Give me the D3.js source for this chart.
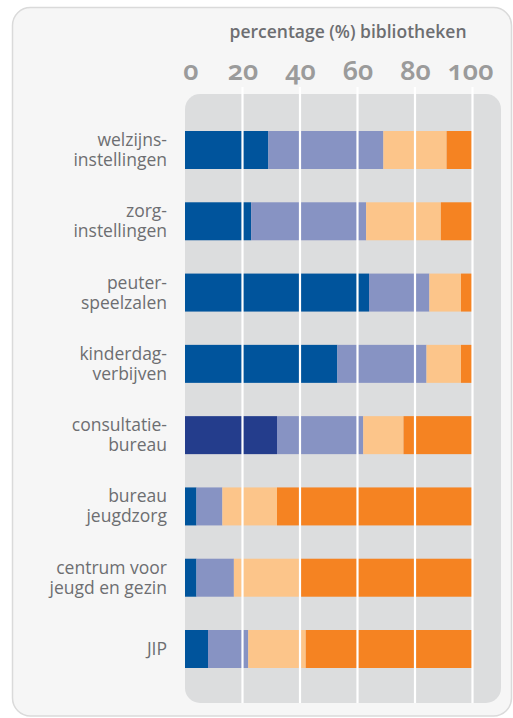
<!DOCTYPE html>
<html>
<head>
<meta charset="utf-8">
<script src="https://cdn.jsdelivr.net/npm/d3@7"></script>
<style>
  html, body { margin: 0; padding: 0; background: #fff; }
  svg { display: block; font-family: "Open Sans", "Noto Sans", sans-serif; }
</style>
</head>
<body>
<div id="content"></div>
<script>
// categories (label lines) top to bottom
var categories = [
  ["welzijns-", "instellingen"],
  ["zorg-", "instellingen"],
  ["peuter-", "speelzalen"],
  ["kinderdag-", "verbijven"],
  ["consultatie-", "bureau"],
  ["bureau", "jeugdzorg"],
  ["centrum voor", "jeugd en gezin"],
  ["JIP"]
];
// four stacked parts, percentages
var part1 = [29, 23, 64, 53, 32, 4, 4, 8];
var part2 = [40, 40, 21, 31, 30, 9, 13, 14];
var part3 = [22, 26, 11, 12, 14, 19, 23, 20];
var part4 = [9, 11, 4, 4, 24, 68, 60, 58];
var ticks = [0, 20, 40, 60, 80, 100];
var colors = ["#00549c", "#8793c3", "#fcc58a", "#f58322"];
var accent = "#243d8c"; // first part of consultatie-bureau is darker

var rows = categories.map(function(c, i) {
  return {name: c.join(" "), lines: c, p1: part1[i], p2: part2[i], p3: part3[i], p4: part4[i]};
});
var keys = ["p1", "p2", "p3", "p4"];

var svg = d3.select("#content").append("svg")
    .attr("width", 513)
    .attr("height", 718);

//Card
svg.append("rect")
    .attr("x", 12.5).attr("y", 7.5)
    .attr("width", 499).attr("height", 708.5)
    .attr("rx", 18).attr("ry", 18)
    .attr("fill", "#f6f6f6")
    .attr("stroke", "#dadada")
    .attr("stroke-width", 1.5);

var x = d3.scaleLinear().domain([0, 100]).range([185, 472.5]);
var y = d3.scaleBand().domain(d3.range(rows.length)).range([131, 668]).paddingInner(0.467);

//Panel
svg.append("rect")
    .attr("x", 185).attr("y", 94)
    .attr("width", 316).attr("height", 609)
    .attr("rx", 15).attr("ry", 15)
    .attr("fill", "#dcddde");

//Bars
var stack = d3.stack().keys(keys)(rows);
svg.append("g").selectAll("g")
  .data(stack)
  .join("g")
    .each(function(s, k) {
      d3.select(this).selectAll("rect")
        .data(s)
        .join("rect")
          .attr("x", function(d) { return x(d[0]); })
          .attr("width", function(d) { return x(d[1]) - x(d[0]); })
          .attr("y", function(d, i) { return y(i); })
          .attr("height", y.bandwidth())
          .attr("fill", function(d) {
            return (k === 0 && d.data.name === "consultatie- bureau") ? accent : colors[k];
          });
    });

//Gridlines over the bars + ticks above panel
svg.append("g").selectAll("line")
  .data(ticks.slice(1))
  .join("line")
    .attr("x1", function(d) { return x(d); })
    .attr("x2", function(d) { return x(d); })
    .attr("y1", 87).attr("y2", 703)
    .attr("stroke", "#fff")
    .attr("stroke-width", 2.2);

//Top axis labels
var axis = d3.axisTop(x).tickValues(ticks).tickSize(0).tickPadding(0);
var gAxis = svg.append("g").attr("transform", "translate(0,80)").call(axis);
gAxis.select(".domain").remove();
gAxis.selectAll("text")
    .attr("dy", 0)
    .attr("fill", "#9b9b9b")
    .style("font-family", "'Noto Sans', 'Open Sans', sans-serif")
    .style("font-size", "27px")
    .style("font-weight", 600)
    .style("font-variant-numeric", "oldstyle-nums")
    .style("font-feature-settings", "'onum' 1");
gAxis.selectAll(".tick").filter(function(d) { return d === 0; })
    .attr("transform", "translate(" + (x(0) + 6) + ",0)");
gAxis.selectAll(".tick").filter(function(d) { return d === 100; })
    .attr("transform", "translate(" + (x(100) - 2) + ",0)");

//Title
svg.append("text")
    .attr("x", 348).attr("y", 38)
    .attr("text-anchor", "middle")
    .attr("fill", "#6d6e71")
    .style("font-size", "17.5px")
    .style("font-weight", 600)
    .text("percentage (%) bibliotheken");

//Category labels
var labels = svg.append("g").selectAll("text")
  .data(rows)
  .join("text")
    .attr("text-anchor", "end")
    .attr("fill", "#6d6e71")
    .style("font-size", "17.5px")
    .attr("transform", function(d, i) {
      return "translate(167," + (y(i) + y.bandwidth() / 2) + ")";
    });
labels.selectAll("tspan")
  .data(function(d) { return d.lines.map(function(l, j) { return {t: l, j: j, n: d.lines.length}; }); })
  .join("tspan")
    .attr("x", 0)
    .attr("y", function(d) { return 6 + (d.j - (d.n - 1) / 2) * 20; })
    .text(function(d) { return d.t; });
</script>
</body>
</html>
